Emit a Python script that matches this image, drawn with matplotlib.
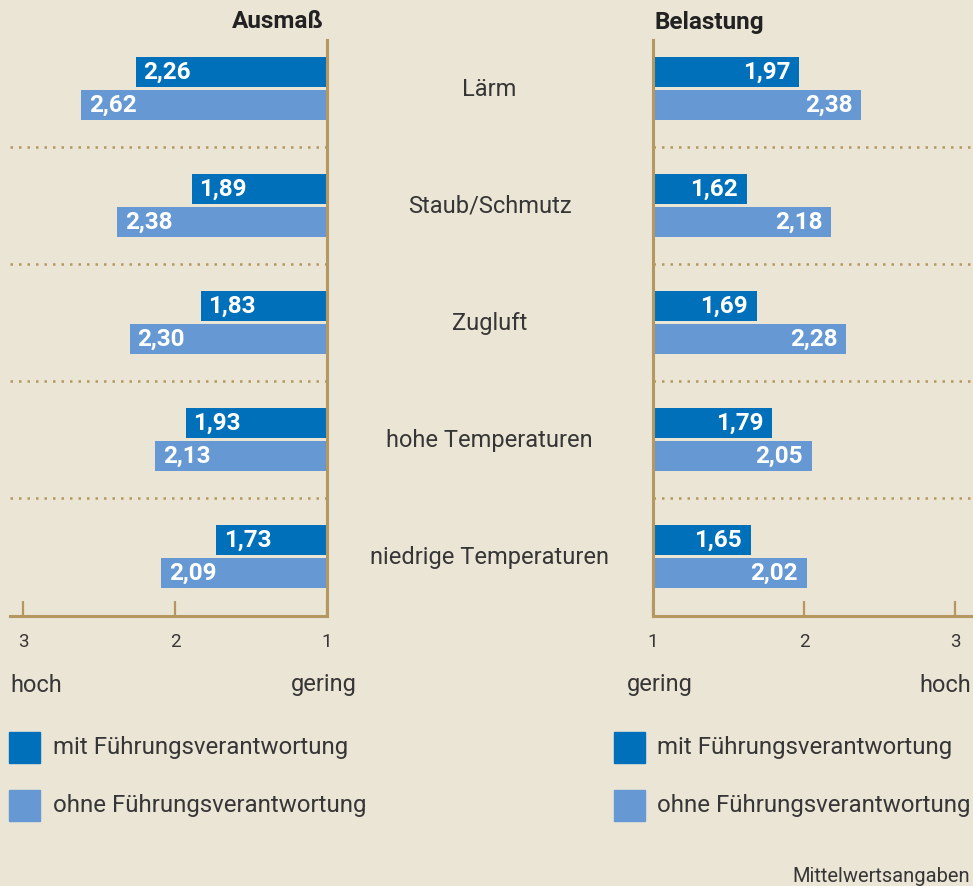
import matplotlib
matplotlib.use("Agg")
import matplotlib.pyplot as plt
from matplotlib.patches import Rectangle

plt.rcParams['font.family'] = ['Roboto', 'DejaVu Sans']

categories = ["Lärm", "Staub/Schmutz", "Zugluft", "hohe Temperaturen", "niedrige Temperaturen"]
ausmass_mit = [2.26, 1.89, 1.83, 1.93, 1.73]
ausmass_ohne = [2.62, 2.38, 2.30, 2.13, 2.09]
belastung_mit = [1.97, 1.62, 1.69, 1.79, 1.65]
belastung_ohne = [2.38, 2.18, 2.28, 2.05, 2.02]
series_labels = ["mit Führungsverantwortung", "ohne Führungsverantwortung"]
tick_values = [3, 2, 1]

BG = "#ebe5d6"
DARK = "#0070bb"
LIGHT = "#6699d3"
AXC = "#b5985f"
TXT = "#363636"

W, H = 973, 886
fig = plt.figure(figsize=(W / 100, H / 100), dpi=100, facecolor=BG)

def fx(x):
    return x / W

def fy(y):
    return 1 - y / H

ax_top, ax_bot = 40, 616
axL = fig.add_axes([fx(10), fy(ax_bot), 316.5 / W, (ax_bot - ax_top) / H])
axR = fig.add_axes([fx(653), fy(ax_bot), 320 / W, (ax_bot - ax_top) / H])

step = 117.0
c0 = 88.5
ylim = ((ax_bot - c0) / step, (ax_top - c0) / step)
bh = 30 / step
off = 16.5 / step
lw_axis = 2.2
VFS = 17.5
TFS = 17

def fmt(v):
    return f"{v:.2f}".replace(".", ",")

for ax, mit, ohne, xlim, side in [
    (axL, ausmass_mit, ausmass_ohne, (1 + 316.5 / 151.5, 1), "L"),
    (axR, belastung_mit, belastung_ohne, (1, 1 + 320 / 151), "R"),
]:
    ax.set_facecolor("none")
    ax.set_xlim(*xlim)
    ax.set_ylim(*ylim)
    ys = list(range(len(categories)))
    ax.barh([y - off for y in ys], [v - 1 for v in mit], left=1, height=bh, color=DARK, zorder=2)
    ax.barh([y + off for y in ys], [v - 1 for v in ohne], left=1, height=bh, color=LIGHT, zorder=2)
    for vals, sgn in [(mit, -1), (ohne, 1)]:
        for y, v in zip(ys, vals):
            if side == "L":
                ax.annotate(fmt(v), (v, y + sgn * off), xytext=(5.6, -0.5), textcoords="offset points",
                            ha="left", va="center", color="white", fontsize=VFS, fontweight="bold", zorder=3)
            else:
                ax.annotate(fmt(v), (v, y + sgn * off), xytext=(-6.5, -0.5), textcoords="offset points",
                            ha="right", va="center", color="white", fontsize=VFS, fontweight="bold", zorder=3)
    for k in range(len(categories) - 1):
        ax.axhline(k + 0.5, color=AXC, lw=1.8, ls=(0, (1.0, 2.4)), zorder=1)
    for s in ax.spines.values():
        s.set_visible(False)
    vs = "right" if side == "L" else "left"
    ax.spines[vs].set_visible(True)
    ax.spines["bottom"].set_visible(True)
    for s in (vs, "bottom"):
        ax.spines[s].set_color(AXC)
        ax.spines[s].set_linewidth(lw_axis)
        ax.spines[s].set_capstyle("projecting")
    ax.set_yticks([])
    ax.set_xticks(tick_values)
    ax.set_xticklabels([str(t) for t in tick_values])
    ax.tick_params(axis="x", direction="in", length=11, width=1.6, color=AXC,
                   pad=12, labelsize=13.5, labelcolor=TXT)

# category labels
for i, c in enumerate(categories):
    fig.text(fx(489.5), fy(c0 + step * i + 1), c, ha="center", va="center",
             fontsize=TFS, color=TXT)

# titles
fig.text(fx(324), fy(22), "Ausmaß", ha="right", va="center", fontsize=17.5, fontweight="bold", color="#222222")
fig.text(fx(655), fy(22), "Belastung", ha="left", va="center", fontsize=17.5, fontweight="bold", color="#222222")

# hoch / gering
fig.text(fx(10), fy(685), "hoch", ha="left", va="center", fontsize=TFS, color=TXT)
fig.text(fx(357), fy(685), "gering", ha="right", va="center", fontsize=TFS, color=TXT)
fig.text(fx(627), fy(685), "gering", ha="left", va="center", fontsize=TFS, color=TXT)
fig.text(fx(971), fy(685), "hoch", ha="right", va="center", fontsize=TFS, color=TXT)

# legends
for lx, tx in [(9, 53), (614, 657)]:
    for (yy, col, lab) in [(732, DARK, series_labels[0]), (790, LIGHT, series_labels[1])]:
        fig.patches.append(Rectangle((fx(lx), fy(yy + 31)), 31 / W, 31 / H,
                                     transform=fig.transFigure, color=col, figure=fig))
        fig.text(fx(tx), fy(yy + 15.5), lab, ha="left", va="center", fontsize=17.3, color=TXT)

fig.text(fx(970), fy(877), "Mittelwertsangaben", ha="right", va="center", fontsize=14.5, color=TXT)

fig.savefig("out.png", dpi=100, facecolor=BG)
